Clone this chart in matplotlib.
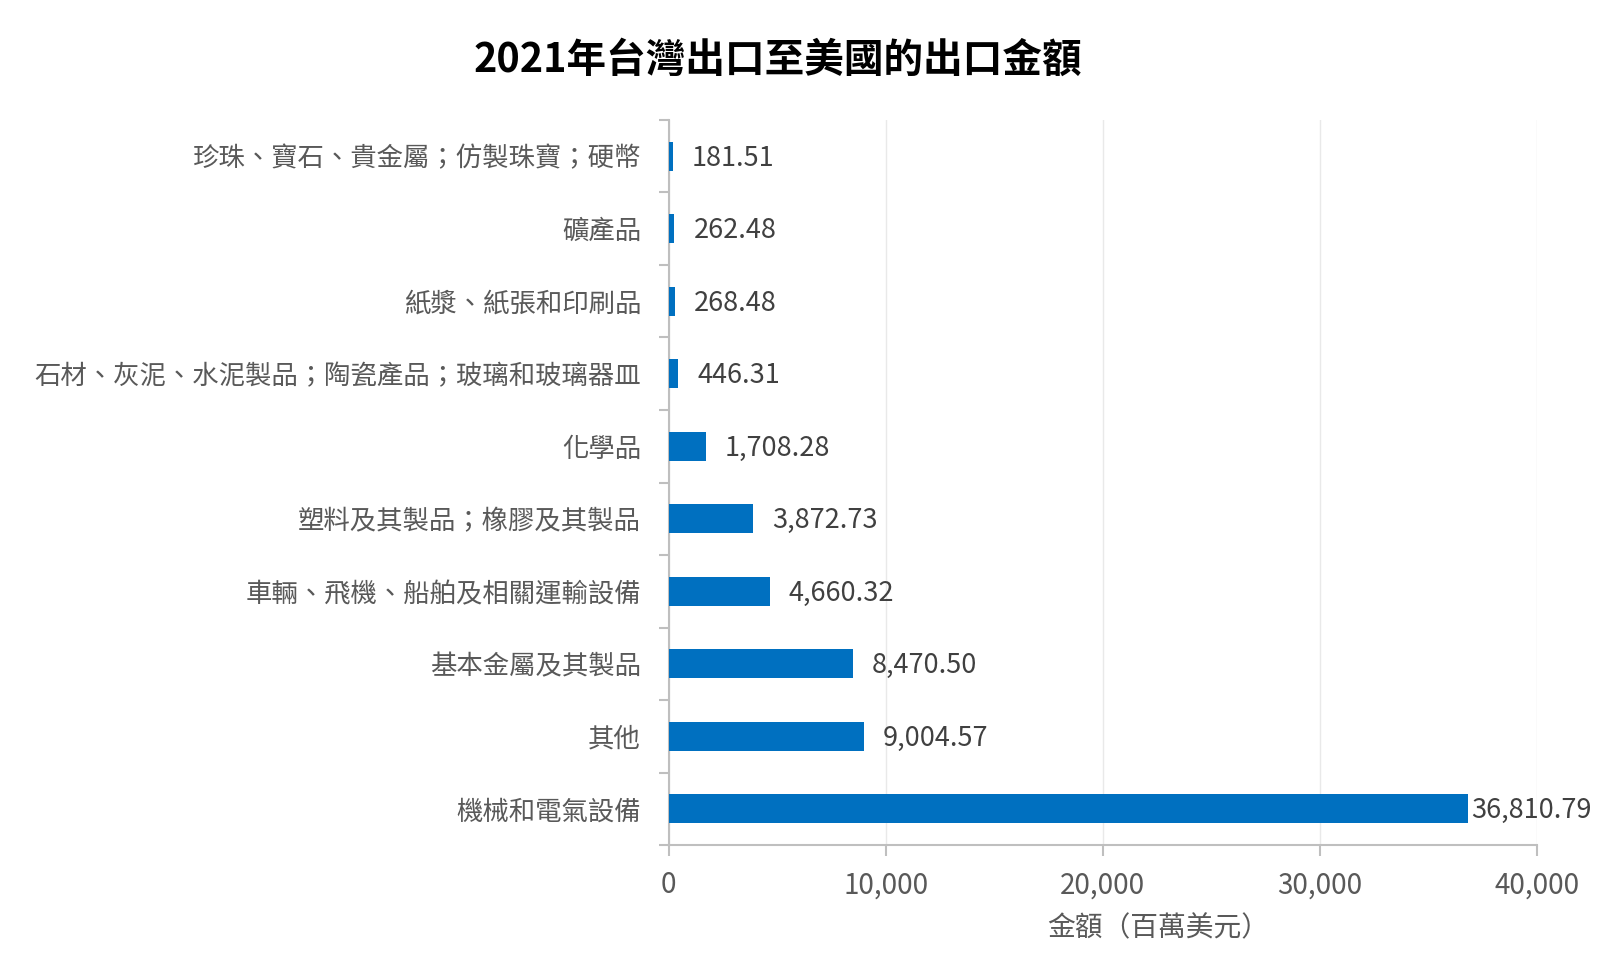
import matplotlib
matplotlib.use("Agg")
import matplotlib.pyplot as plt
from matplotlib.ticker import FuncFormatter, FixedLocator
import numpy as np

plt.rcParams['font.family'] = ['Noto Sans CJK TC', 'DejaVu Sans']

categories = [
    "機械和電氣設備",
    "其他",
    "基本金屬及其製品",
    "車輛、飛機、船舶及相關運輸設備",
    "塑料及其製品；橡膠及其製品",
    "化學品",
    "石材、灰泥、水泥製品；陶瓷產品；玻璃和玻璃器皿",
    "紙漿、紙張和印刷品",
    "礦產品",
    "珍珠、寶石、貴金屬；仿製珠寶；硬幣",
]
values = [36810.79, 9004.57, 8470.50, 4660.32, 3872.73, 1708.28, 446.31, 268.48, 262.48, 181.51]
x_ticks = [0, 10000, 20000, 30000, 40000]
title = "2021年台灣出口至美國的出口金額"
xlabel = "金額（百萬美元）"

bar_color = "#0070C0"
text_gray = "#595959"
label_dark = "#404040"
spine_gray = "#BFBFBF"
grid_gray = "#E9E9E9"

fig = plt.figure(figsize=(16, 9.67), dpi=100)
ax = fig.add_axes([0.418, 0.126, 0.9606 - 0.418, 0.876 - 0.126])

y = np.arange(len(categories))
bars = ax.barh(y, values, height=0.4, color=bar_color, zorder=3)

ax.set_xlim(0, 40000)
ax.set_ylim(-0.5, len(categories) - 0.5)
ax.set_yticks(y)
ax.set_yticklabels(categories, fontsize=19, color=text_gray)
ax.tick_params(axis='y', which='major', length=0, pad=20)
ax.yaxis.set_minor_locator(FixedLocator(np.arange(-0.5, len(categories), 1.0)))
ax.tick_params(axis='y', which='minor', length=7, width=1.5, color=spine_gray, direction='out')

ax.set_xticks(x_ticks)
ax.xaxis.set_major_formatter(FuncFormatter(lambda v, p: f"{int(v):,}"))
ax.tick_params(axis='x', which='major', length=8, width=1.5, color=spine_gray,
               labelsize=20, labelcolor=text_gray, pad=10)

ax.grid(axis='x', color=grid_gray, linewidth=1, zorder=0)
for s in ['top', 'right']:
    ax.spines[s].set_visible(False)
for s in ['left', 'bottom']:
    ax.spines[s].set_color(spine_gray)
    ax.spines[s].set_linewidth(1.5)

for i, (b, v) in enumerate(zip(bars, values)):
    off = 3 if v > 30000 else 19
    ax.annotate(f"{v:,.2f}", xy=(v, b.get_y() + b.get_height() / 2),
                xytext=(off, -2), textcoords='offset pixels',
                ha='left', va='center', fontsize=19.5, color=label_dark, zorder=4)

fig.text(0.486, 0.938, title, ha='center', va='center', fontsize=28.5,
         fontweight='bold', color='black')
fig.text(0.724, 0.04, xlabel, ha='center', va='center', fontsize=20, color=text_gray)

fig.savefig("out.png", dpi=100, facecolor='white')
